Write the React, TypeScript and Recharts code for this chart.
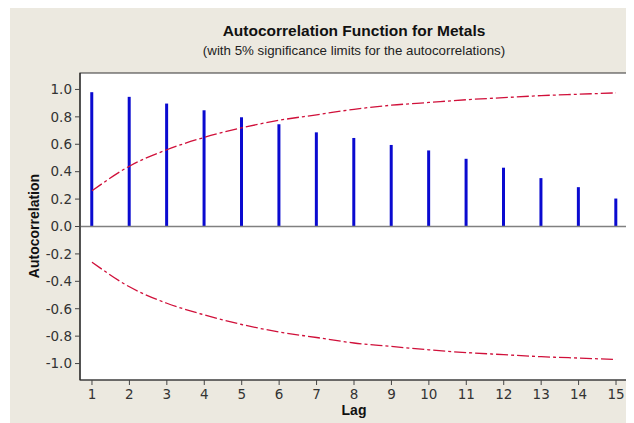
import {
  ComposedChart,
  Bar,
  Line,
  XAxis,
  YAxis,
  CartesianGrid,
  ReferenceLine,
  ReferenceArea,
} from 'recharts'

// Lags and autocorrelations
const lags = [1, 2, 3, 4, 5, 6, 7, 8, 9, 10, 11, 12, 13, 14, 15]
const acf = [0.98, 0.946, 0.897, 0.848, 0.797, 0.746, 0.687, 0.646, 0.595, 0.555, 0.494, 0.429, 0.353, 0.287, 0.204]

// 5% significance limits
const upperLimit = [0.26, 0.44, 0.56, 0.65, 0.72, 0.775, 0.815, 0.855, 0.885, 0.905, 0.925, 0.94, 0.955, 0.965, 0.975]
const lowerLimit = [-0.26, -0.44, -0.56, -0.645, -0.715, -0.77, -0.81, -0.85, -0.875, -0.9, -0.92, -0.935, -0.95, -0.96, -0.97]

const yTicks = [-1.0, -0.8, -0.6, -0.4, -0.2, 0.0, 0.2, 0.4, 0.6, 0.8, 1.0]

const data = lags.map((lag, i) => ({
  lag,
  acf: acf[i],
  upper: upperLimit[i],
  lower: lowerLimit[i],
}))

const xDomain: [number, number] = [0.68, 15.32]
const yDomain: [number, number] = [-1.12, 1.12]

const tickStyle = { fill: '#333', fontSize: 13.5, fontFamily: 'DejaVu Sans' }

export default function App() {
  return (
    <div
      style={{
        position: 'relative',
        width: 626,
        height: 416,
        marginLeft: 2,
        marginTop: -1,
        background: '#ECE9E0',
      }}
    >
      {/* Title */}
      <div
        style={{
          position: 'absolute',
          left: 70,
          width: 548,
          top: 15,
          textAlign: 'center',
          fontFamily: 'Liberation Sans',
          fontWeight: 'bold',
          fontSize: 15.5,
          color: '#111',
          lineHeight: '18px',
        }}
      >
        Autocorrelation Function for Metals
      </div>
      <div
        style={{
          position: 'absolute',
          left: 70,
          width: 548,
          top: 36,
          textAlign: 'center',
          fontFamily: 'Liberation Sans',
          fontSize: 13.3,
          color: '#222',
          lineHeight: '16px',
        }}
      >
        (with 5% significance limits for the autocorrelations)
      </div>

      <ComposedChart
        width={626}
        height={416}
        data={data}
        margin={{ top: 66, right: 8, left: 0, bottom: 13 }}
      >
        <CartesianGrid horizontal={false} vertical={false} fill="#fff" />

        <XAxis
          type="number"
          dataKey="lag"
          domain={xDomain}
          ticks={lags}
          allowDataOverflow
          height={30}
          tickSize={5}
          tickMargin={4}
          tick={tickStyle}
          axisLine={{ stroke: '#444' }}
          tickLine={{ stroke: '#444' }}
        />
        <YAxis
          type="number"
          domain={yDomain}
          ticks={yTicks}
          allowDataOverflow
          width={70}
          tickSize={5}
          tickMargin={3}
          tick={tickStyle}
          tickFormatter={(v: number) => v.toFixed(1)}
          axisLine={{ stroke: '#222' }}
          tickLine={{ stroke: '#444' }}
        />

        {/* plot frame */}
        <ReferenceArea
          x1={xDomain[0]}
          x2={xDomain[1]}
          y1={yDomain[0]}
          y2={yDomain[1]}
          fill="none"
          stroke="#333"
          strokeWidth={1.2}
          ifOverflow="visible"
        />

        <ReferenceLine y={0} stroke="#808080" strokeWidth={1.5} />

        <Bar dataKey="acf" fill="#0a0ad0" barSize={3} isAnimationActive={false} />

        <Line
          type="monotone"
          dataKey="upper"
          stroke="#d0103a"
          strokeWidth={1.3}
          strokeDasharray="12 3 3 3"
          dot={false}
          isAnimationActive={false}
        />
        <Line
          type="monotone"
          dataKey="lower"
          stroke="#d0103a"
          strokeWidth={1.3}
          strokeDasharray="12 3 3 3"
          dot={false}
          isAnimationActive={false}
        />
      </ComposedChart>

      {/* Axis labels */}
      <div
        style={{
          position: 'absolute',
          left: 70,
          width: 548,
          top: 395,
          textAlign: 'center',
          fontFamily: 'Liberation Sans',
          fontWeight: 'bold',
          fontSize: 14,
          color: '#111',
          lineHeight: '16px',
        }}
      >
        Lag
      </div>
      <div
        style={{
          position: 'absolute',
          left: 24 - 100,
          top: 219 - 8,
          width: 200,
          textAlign: 'center',
          transform: 'rotate(-90deg)',
          fontFamily: 'Liberation Sans',
          fontWeight: 'bold',
          fontSize: 14,
          color: '#111',
          lineHeight: '16px',
        }}
      >
        Autocorrelation
      </div>
    </div>
  )
}
